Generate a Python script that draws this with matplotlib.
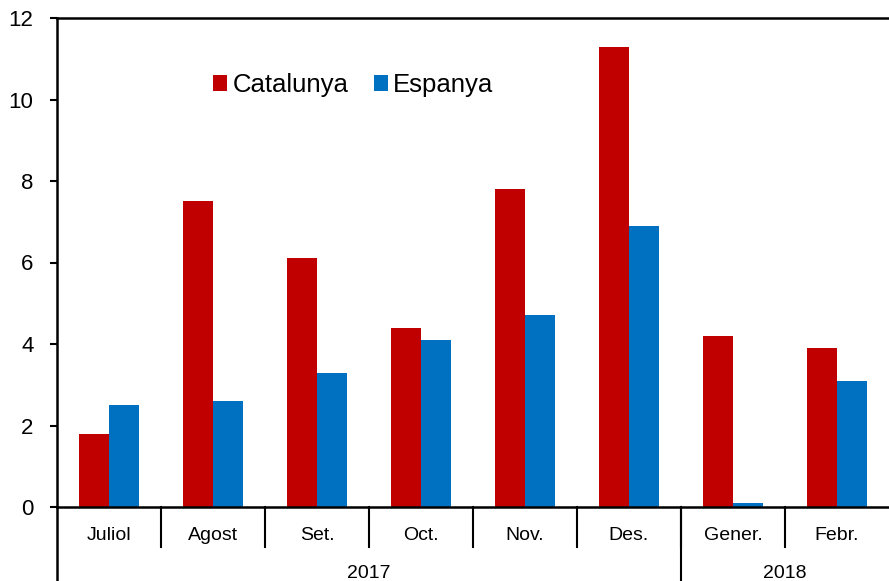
import matplotlib
matplotlib.use("Agg")
import matplotlib.pyplot as plt
import numpy as np

plt.rcParams['font.family'] = ['Liberation Sans', 'DejaVu Sans']

# Data
months = ['Juliol', 'Agost', 'Set.', 'Oct.', 'Nov.', 'Des.', 'Gener.', 'Febr.']
years = ['2017', '2018']
year_counts = [6, 2]
catalunya = [1.8, 7.5, 6.1, 4.4, 7.8, 11.3, 4.2, 3.9]
espanya = [2.5, 2.6, 3.3, 4.1, 4.7, 6.9, 0.1, 3.1]

red = '#C00000'
blue = '#0070C0'

fig = plt.figure(figsize=(8.89, 5.81), dpi=100)
ax = fig.add_axes([57 / 889, 74 / 581, 832 / 889, 489 / 581])

x = np.arange(len(months))
w = 0.29
ax.bar(x - w / 2, catalunya, w, color=red, label='Catalunya')
ax.bar(x + w / 2, espanya, w, color=blue, label='Espanya')

ax.set_xlim(-0.5, len(months) - 0.5)
ax.set_ylim(0, 12)
ax.set_yticks(range(0, 13, 2))
ax.tick_params(axis='y', direction='out', length=5, width=1.5, labelsize=16, pad=12)
ax.set_xticks([])

for s in ['left', 'top', 'bottom']:
    ax.spines[s].set_linewidth(1.8)
ax.spines['right'].set_visible(False)

# two-level category axis
tr = ax.get_xaxis_transform()
h = 489.0
ax.plot([-0.5, -0.5], [0, -74 / h], transform=tr, color='black', lw=1.8, clip_on=False)
for i in range(1, len(months)):
    ax.plot([i - 0.5, i - 0.5], [0, -40 / h], transform=tr, color='black', lw=1.5, clip_on=False)
for i, m in enumerate(months):
    ax.text(i, -28 / h, m, transform=tr, ha='center', va='center', fontsize=14)

start = 0
for yr, n in zip(years, year_counts):
    if start > 0:
        ax.plot([start - 0.5, start - 0.5], [0, -74 / h], transform=tr, color='black', lw=1.5, clip_on=False)
    ax.text(start + (n - 1) / 2, -66 / h, yr, transform=tr, ha='center', va='center', fontsize=14)
    start += n

ax.legend(loc='upper left', bbox_to_anchor=(0.16, 0.935), ncol=2, frameon=False,
          fontsize=18.5, handlelength=0.55, handleheight=0.55, handletextpad=0.2,
          columnspacing=1.0)

fig.savefig('out.png', dpi=100)
